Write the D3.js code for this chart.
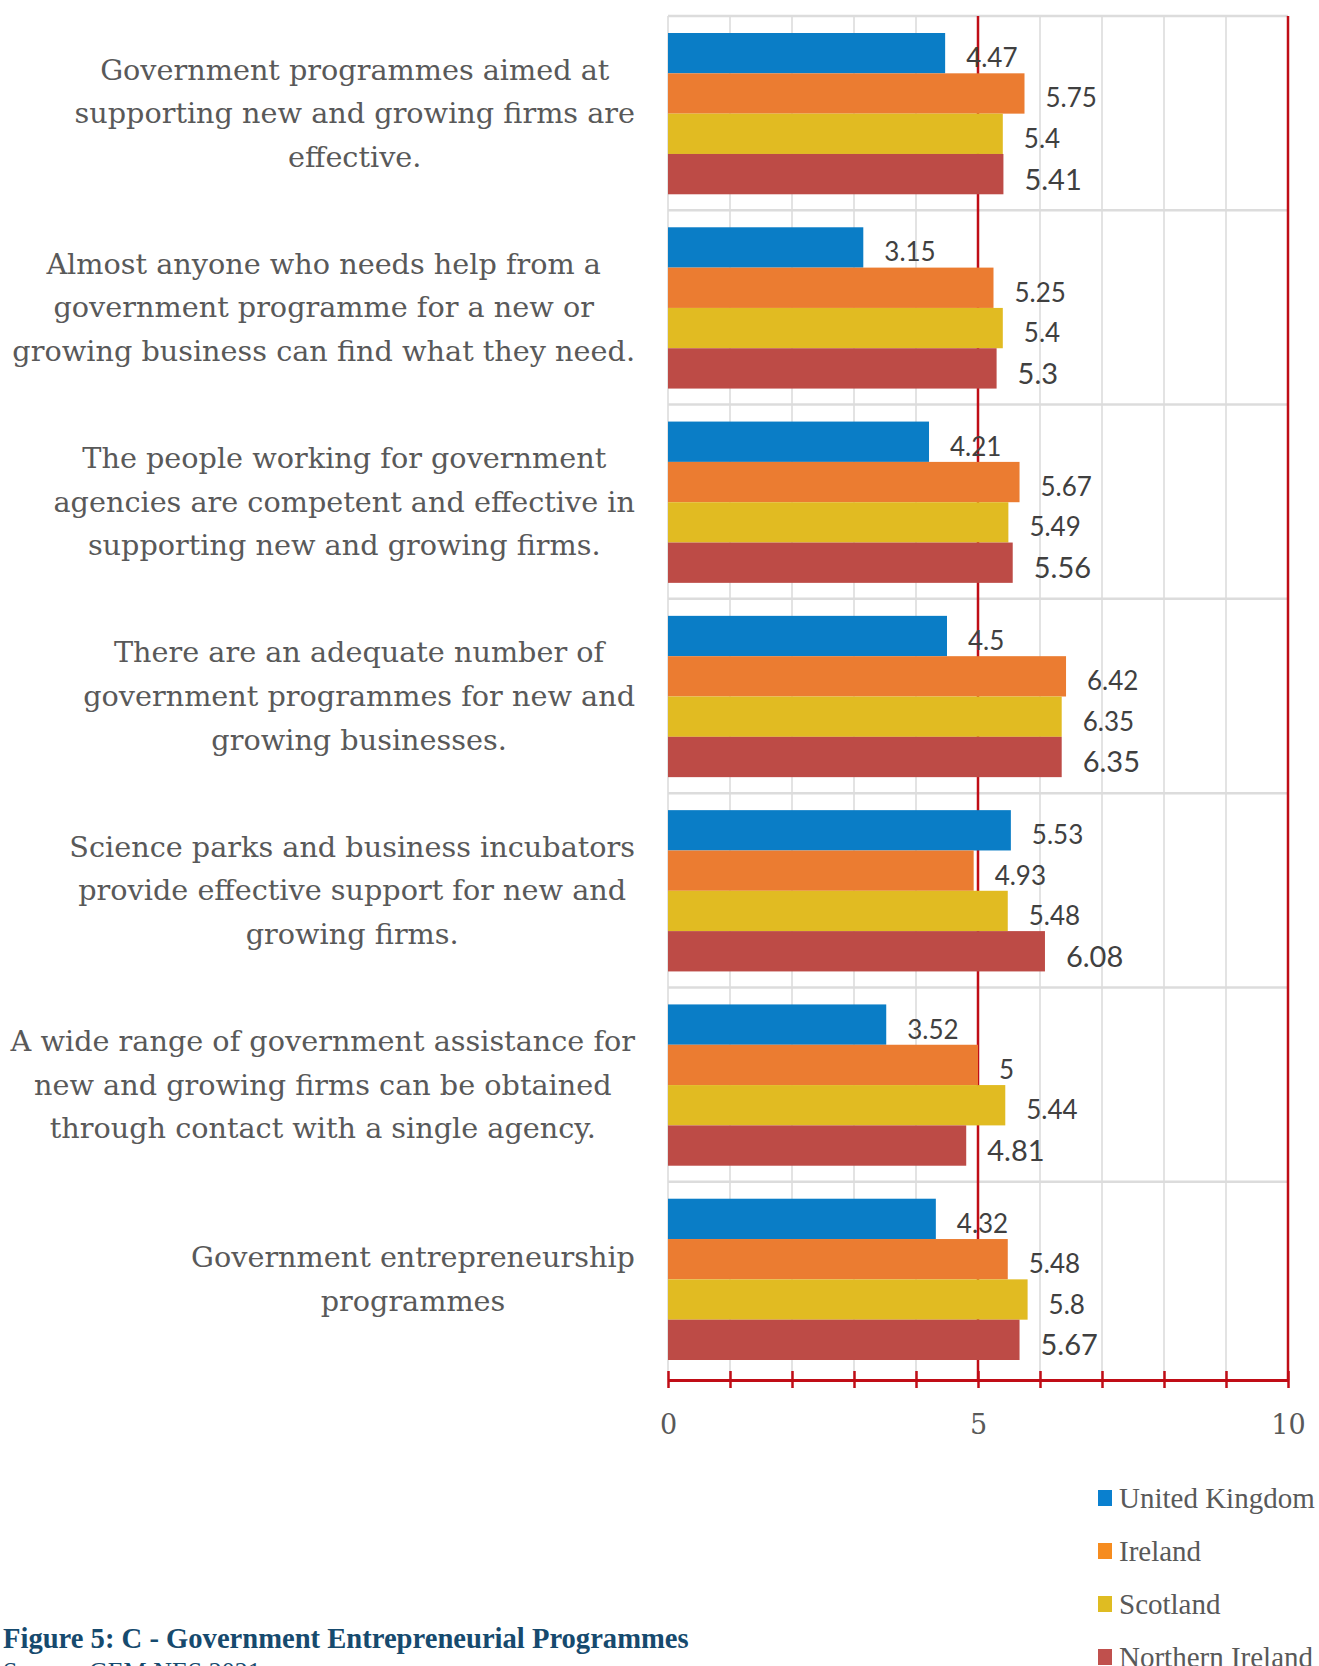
<!DOCTYPE html>
<html><head><meta charset="utf-8">
<script src="https://cdn.jsdelivr.net/npm/d3@7"></script>
<style>body{margin:0;background:#fff}svg{display:block}</style>
</head><body>
<svg id="chart" width="1319" height="1666"></svg>
<script>
const categories = [
  ["Government programmes aimed at", "supporting new and growing firms are", "effective."],
  ["Almost anyone who needs help from a", "government programme for a new or", "growing business can find what they need."],
  ["The people working for government", "agencies are competent and effective in", "supporting new and growing firms."],
  ["There are an adequate number of", "government programmes for new and", "growing businesses."],
  ["Science parks and business incubators", "provide effective support for new and", "growing firms."],
  ["A wide range of government assistance for", "new and growing firms can be obtained", "through contact with a single agency."],
  ["Government entrepreneurship", "programmes"]
];
const seriesNames = ["United Kingdom", "Ireland", "Scotland", "Northern Ireland"];
const ukValues       = [4.47, 3.15, 4.21, 4.5, 5.53, 3.52, 4.32];
const irelandValues  = [5.75, 5.25, 5.67, 6.42, 4.93, 5, 5.48];
const scotlandValues = [5.4, 5.4, 5.49, 6.35, 5.48, 5.44, 5.8];
const niValues       = [5.41, 5.3, 5.56, 6.35, 6.08, 4.81, 5.67];
const tickValues = [0, 5, 10];
const title = "Figure 5: C - Government Entrepreneurial Programmes";
const source = "Source: GEM NES 2021";

const seriesValues = [ukValues, irelandValues, scotlandValues, niValues];
const barColors = ["#0a7dc6", "#eb7c31", "#e1bb22", "#bd4b46"];
const legendColors = ["#0a80cf", "#f68c1f", "#dfbc22", "#c0504d"];

const svg = d3.select("#chart");
const x = d3.scaleLinear().domain([0, 10]).range([668, 1288]);
const y = d3.scaleBand().domain(d3.range(categories.length)).range([16, 1376]).padding(0);
const yInner = d3.scaleBand().domain(d3.range(seriesNames.length))
  .range([17, y.bandwidth() - 16]).padding(0);
const axisY = 1380;

// grid
const grid = svg.append("g");
grid.selectAll("line.v").data(d3.range(0, 10)).join("line")
  .attr("x1", d => x(d)).attr("x2", d => x(d))
  .attr("y1", 16).attr("y2", axisY)
  .attr("stroke", "#e3e3e3").attr("stroke-width", 2);
grid.selectAll("line.h").data(d3.range(0, categories.length)).join("line")
  .attr("x1", x(0)).attr("x2", x(10))
  .attr("y1", d => y(d)).attr("y2", d => y(d))
  .attr("stroke", "#dcdcdc").attr("stroke-width", 2.5);
grid.selectAll("line.r").data([5, 10]).join("line")
  .attr("x1", d => x(d)).attr("x2", d => x(d))
  .attr("y1", 16).attr("y2", axisY)
  .attr("stroke", "#c00d16").attr("stroke-width", 2.5);

// bars
const groups = svg.append("g").selectAll("g").data(categories).join("g")
  .attr("transform", (d, i) => `translate(0,${y(i)})`);
groups.each(function(cat, ci) {
  const g = d3.select(this);
  const rows = seriesValues.map((vals, si) => ({si, v: vals[ci]}));
  g.selectAll("rect").data(rows).join("rect")
    .attr("x", x(0)).attr("y", d => yInner(d.si))
    .attr("width", d => x(d.v) - x(0)).attr("height", yInner.bandwidth())
    .attr("fill", d => barColors[d.si]);
  g.selectAll("text").data(rows).join("text")
    .attr("x", d => x(d.v) + 21)
    .attr("y", d => yInner(d.si) + yInner.bandwidth() / 2 + 4)
    .attr("dominant-baseline", "central")
    .attr("font-family", "Lato, sans-serif")
    .attr("font-size", d => d.si === 3 ? 29 : 26)
    .attr("fill", "#404040")
    .text(d => String(d.v));
});

// category labels
const labelRight = 635;
const lineH = 43.6;
const lab = svg.append("g").attr("font-family", "'DejaVu Serif', serif").attr("font-size", 28.7).attr("fill", "#595959");
categories.forEach((lines, ci) => {
  const cy = y(ci) + y.bandwidth() / 2;
  const t = lab.append("g");
  const texts = t.selectAll("text").data(lines).join("text")
    .attr("text-anchor", "middle")
    .attr("dominant-baseline", "central")
    .attr("y", (d, i) => cy + (i - (lines.length - 1) / 2) * lineH)
    .text(d => d);
  let maxW = 0;
  texts.each(function() { maxW = Math.max(maxW, this.getComputedTextLength()); });
  texts.attr("x", labelRight - maxW / 2);
});

// x axis
const axis = d3.axisBottom(x).tickValues(d3.range(0, 11)).tickSize(0).tickFormat("");
const ax = svg.append("g").attr("transform", `translate(0,${axisY})`).call(axis);
ax.select(".domain").attr("stroke", "#c00d16").attr("stroke-width", 3);
ax.selectAll(".tick").append("line").attr("y1", -9).attr("y2", 8)
  .attr("stroke", "#c00d16").attr("stroke-width", 2.5);
ax.selectAll(".tick").filter(d => tickValues.includes(d)).append("text")
  .attr("y", 44).attr("dominant-baseline", "central")
  .attr("text-anchor", "middle")
  .attr("font-family", "'DejaVu Serif', serif").attr("font-size", 27).attr("fill", "#595959")
  .text(d => d);

// legend
const lg = svg.append("g").selectAll("g").data(seriesNames).join("g")
  .attr("transform", (d, i) => `translate(1098,${1498 + i * 53})`);
lg.append("rect").attr("x", 0).attr("y", -8).attr("width", 14).attr("height", 16)
  .attr("fill", (d, i) => legendColors[i]);
lg.append("text").attr("x", 21).attr("dominant-baseline", "central")
  .attr("font-family", "'Liberation Serif', serif").attr("font-size", 29).attr("fill", "#595959")
  .text(d => d);

// title
svg.append("text").attr("x", 3).attr("y", 1648)
  .attr("font-family", "'Liberation Serif', serif").attr("font-weight", "bold")
  .attr("font-size", 28.6).attr("fill", "#164a6e")
  .text(title);
svg.append("text").attr("x", 3).attr("y", 1680)
  .attr("font-family", "'Liberation Serif', serif")
  .attr("font-size", 26).attr("fill", "#164a6e")
  .text(source);
</script>
</body></html>
